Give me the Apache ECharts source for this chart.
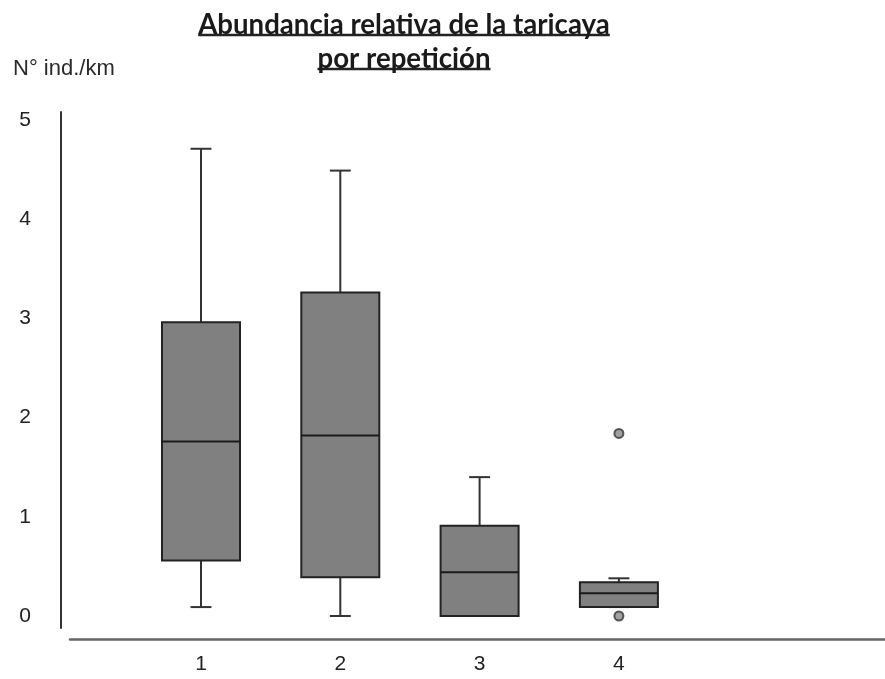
<!DOCTYPE html>
<html><head><meta charset="utf-8">
<script src="https://cdn.jsdelivr.net/npm/echarts@6/dist/echarts.min.js"></script>
<style>html,body{margin:0;padding:0;background:#fff}#chart{width:885px;height:679px}</style>
</head><body><div id="chart"></div>
<script>
// ---- data ----
const titleLines = ['Abundancia relativa de la taricaya', 'por repetición'];
const yAxisName = 'N° ind./km';
const categories = ['1', '2', '3', '4'];
const whiskerLow = [0.09, 0.00, 0.00, 0.09];
const q1Values = [0.56, 0.39, 0.00, 0.09];
const medians = [1.76, 1.82, 0.44, 0.23];
const q3Values = [2.96, 3.26, 0.91, 0.34];
const whiskerHigh = [4.71, 4.49, 1.40, 0.38];
const outlierCategories = ['4', '4'];
const outlierValues = [1.84, 0.00];
const yTickValues = [0, 1, 2, 3, 4, 5];

// ---- build ----
const xPos = c => categories.indexOf(c) + 1;
const boxData = categories.map((c, i) => [xPos(c), whiskerLow[i], q1Values[i], medians[i], q3Values[i], whiskerHigh[i]]);
const outlierData = outlierCategories.map((c, i) => [xPos(c), outlierValues[i]]);
const xTickValues = categories.map(xPos);

const X_MIN = 0.0596, X_MAX = 5.9103;
const Y_MIN = -0.121, Y_MAX = 5.0806;

const titleFamily = 'Lato';
const ctx = document.createElement('canvas').getContext('2d');
function measure(text, size) { ctx.font = 'bold ' + size + 'px ' + titleFamily; return ctx.measureText(text).width; }
const titleSize = Math.round(24 * 412 / measure(titleLines[0], 24) * 10) / 10;
const titleCenter = 404;
const w1 = measure(titleLines[0], titleSize);
const w2 = measure(titleLines[1], titleSize);

function renderBox(params, api) {
  const x = api.value(0);
  const lo = api.coord([x, api.value(1)]);
  const q1 = api.coord([x, api.value(2)]);
  const md = api.coord([x, api.value(3)]);
  const q3 = api.coord([x, api.value(4)]);
  const hi = api.coord([x, api.value(5)]);
  const half = api.size([0.56, 0])[0] / 2;
  const cap = api.size([0.15, 0])[0] / 2;
  const cx = md[0];
  const ws = { stroke: '#333', lineWidth: 2 };
  return {
    type: 'group',
    children: [
      { type: 'line', shape: { x1: cx, y1: hi[1], x2: cx, y2: q3[1] }, style: ws },
      { type: 'line', shape: { x1: cx - cap, y1: hi[1], x2: cx + cap, y2: hi[1] }, style: ws },
      { type: 'line', shape: { x1: cx, y1: q1[1], x2: cx, y2: lo[1] }, style: ws },
      { type: 'line', shape: { x1: cx - cap, y1: lo[1], x2: cx + cap, y2: lo[1] }, style: ws },
      { type: 'rect', shape: { x: cx - half, y: q3[1], width: 2 * half, height: q1[1] - q3[1] },
        style: { fill: '#808080', stroke: '#222', lineWidth: 2 } },
      { type: 'line', shape: { x1: cx - half, y1: md[1], x2: cx + half, y2: md[1] }, style: { stroke: '#1a1a1a', lineWidth: 2 } }
    ]
  };
}

const chart = echarts.init(document.getElementById('chart'), null, { renderer: 'canvas' });
chart.setOption({
  animation: false,
  backgroundColor: '#fff',
  title: [
    { text: titleLines[0], left: titleCenter, top: 11, padding: 0, textAlign: 'center',
      textStyle: { fontFamily: titleFamily, fontWeight: 'bold', fontSize: titleSize, color: '#1a1a1a' } },
    { text: titleLines[1], left: titleCenter, top: 45, padding: 0, textAlign: 'center',
      textStyle: { fontFamily: titleFamily, fontWeight: 'bold', fontSize: titleSize, color: '#1a1a1a' } },
    { text: yAxisName, left: 13, top: 58, padding: 0,
      textStyle: { fontFamily: 'Liberation Sans', fontWeight: 'normal', fontSize: 22, color: '#2a2a2a' } }
  ],
  graphic: [
    { type: 'line', silent: true, shape: { x1: titleCenter - w1 / 2, y1: 35, x2: titleCenter + w1 / 2, y2: 35 }, style: { stroke: '#222', lineWidth: 2.5 } },
    { type: 'line', silent: true, shape: { x1: titleCenter - w2 / 2, y1: 69, x2: titleCenter + w2 / 2, y2: 69 }, style: { stroke: '#222', lineWidth: 2.5 } }
  ],
  grid: { left: 70, right: 0, top: 112, bottom: 51 },
  xAxis: {
    type: 'value', min: X_MIN, max: X_MAX, offset: 11,
    axisLine: { show: true, onZero: false, lineStyle: { color: '#666', width: 2.5 } },
    axisTick: { show: false }, splitLine: { show: false },
    axisLabel: { customValues: xTickValues, formatter: v => categories[Math.round(v) - 1],
      fontSize: 21, color: '#222', margin: 15, fontFamily: 'Liberation Sans' }
  },
  yAxis: {
    type: 'value', min: Y_MIN, max: Y_MAX, offset: 9,
    axisLine: { show: true, onZero: false, lineStyle: { color: '#333', width: 2 } },
    axisTick: { show: false }, splitLine: { show: false },
    axisLabel: { customValues: yTickValues, fontSize: 21, color: '#222', margin: 30, fontFamily: 'Liberation Sans' }
  },
  series: [
    { type: 'custom', name: 'box', renderItem: renderBox, data: boxData, clip: false,
      encode: { x: 0, y: [1, 2, 3, 4, 5] } },
    { type: 'scatter', name: 'outliers', data: outlierData, symbol: 'circle', symbolSize: 9,
      itemStyle: { color: '#888', borderColor: '#333', borderWidth: 2 } }
  ]
});
</script></body></html>
